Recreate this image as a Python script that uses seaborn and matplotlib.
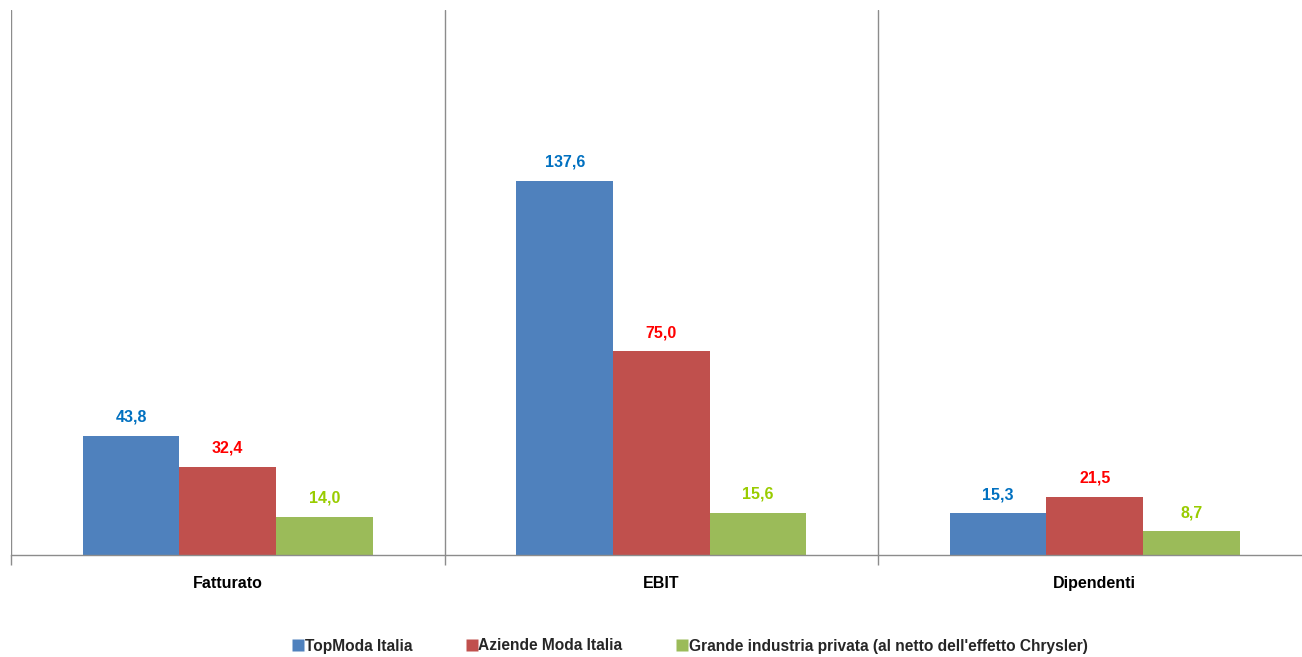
import matplotlib
matplotlib.use("Agg")
import matplotlib.pyplot as plt
from matplotlib.lines import Line2D
import seaborn as sns
import pandas as pd

categories = ["Fatturato", "EBIT", "Dipendenti"]
series = ["TopModa Italia", "Aziende Moda Italia",
          "Grande industria privata (al netto dell'effetto Chrysler)"]
topmoda = [43.8, 137.6, 15.3]
aziende = [32.4, 75.0, 21.5]
grande = [14.0, 15.6, 8.7]

bar_colors = ["#4F81BD", "#C0504D", "#9BBB59"]
label_colors = ["#0070C0", "#FF0000", "#99CC00"]

sns.set_theme(style="white")
plt.rcParams["font.family"] = ["Liberation Sans", "DejaVu Sans"]

rows = []
for s, vals in zip(series, [topmoda, aziende, grande]):
    for c, v in zip(categories, vals):
        rows.append({"categoria": c, "serie": s, "valore": v})
df = pd.DataFrame(rows)

fig = plt.figure(figsize=(13.02, 6.57), dpi=100)
ax = fig.add_axes([11 / 1302, 102 / 657, 1300.5 / 1302, 545 / 657])

sns.barplot(data=df, x="categoria", y="valore", hue="serie", order=categories,
            hue_order=series, palette=bar_colors, width=0.668, gap=0,
            saturation=1, errorbar=None, legend=False, ax=ax,
            edgecolor="none", linewidth=0)

for cont, col in zip(ax.containers, label_colors):
    labels = [f"{v:.1f}".replace(".", ",") for v in cont.datavalues]
    ax.bar_label(cont, labels=labels, padding=8, color=col,
                 fontsize=11.5, fontweight="bold")

ax.set_xlim(-0.5, 2.5)
ax.set_ylim(0, 200.5)
ax.set_xlabel("")
ax.set_ylabel("")
ax.set_yticks([])

for x in [-0.5, 0.5, 1.5, 2.5]:
    ax.axvline(x, color="#8C8C8C", lw=1.0, zorder=0)

for side in ["top", "right", "left"]:
    ax.spines[side].set_visible(False)
ax.spines["bottom"].set_color("#8C8C8C")
ax.spines["bottom"].set_linewidth(1.0)

ax.set_xticks([0, 1, 2])
ax.set_xticklabels(categories, fontsize=11.5, fontweight="bold", color="black")
ax.tick_params(axis="x", which="major", length=0, pad=15)
ax.set_xticks([-0.5, 0.5, 1.5, 2.5], minor=True)
ax.tick_params(axis="x", which="minor", length=7, width=1.0, color="#8C8C8C",
               direction="out", bottom=True)

handles = [Line2D([0], [0], marker="s", linestyle="none", markersize=8,
                  markerfacecolor=c, markeredgecolor="none") for c in bar_colors]
fig.legend(handles, series, loc="center", bbox_to_anchor=(691 / 1302, 1 - 646 / 657),
           ncol=3, frameon=False, handlelength=0.5, handletextpad=0.15,
           columnspacing=3.6, prop={"size": 11.2, "weight": "bold"})

fig.savefig("out.png", dpi=100)
